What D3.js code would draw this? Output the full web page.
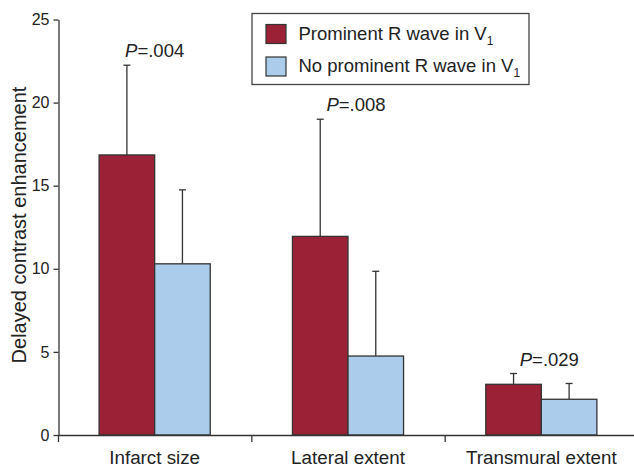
<!DOCTYPE html>
<html>
<head>
<meta charset="utf-8">
<script src="https://cdn.jsdelivr.net/npm/d3@7"></script>
<style>
  body { margin: 0; background: #fff; }
  svg { display: block; font-family: "Liberation Sans", Arial, sans-serif; }
</style>
</head>
<body>
<div id="chart"></div>
<script>
// Data
const categories = ["Infarct size", "Lateral extent", "Transmural extent"];
const seriesNames = ["Prominent R wave in V", "No prominent R wave in V"];
const prominentMeans = [16.85, 11.95, 3.05];
const prominentErrTop = [22.25, 19.0, 3.7];
const noProminentMeans = [10.3, 4.75, 2.15];
const noProminentErrTop = [14.75, 9.85, 3.1];
const pLabels = [".004", ".008", ".029"];
const yTicks = [0, 5, 10, 15, 20, 25];

const colors = ["#9b2236", "#abcdeb"];
const width = 634, height = 467;

const svg = d3.select("#chart").append("svg")
    .attr("width", width)
    .attr("height", height);

// Scales
const x0 = d3.scaleBand()
    .domain(categories)
    .range([58, 638])
    .padding(0);

const x1 = d3.scaleBand()
    .domain([0, 1])
    .range([0, x0.bandwidth()])
    .paddingInner(0)
    .paddingOuter(0.74);

const y = d3.scaleLinear()
    .domain([0, 25])
    .range([435, 19.5]);

const rows = categories.map((c, i) => ({
    cat: c,
    vals: [
        { s: 0, mean: prominentMeans[i], top: prominentErrTop[i] },
        { s: 1, mean: noProminentMeans[i], top: noProminentErrTop[i] }
    ],
    p: pLabels[i]
}));

const groups = svg.selectAll(".grp")
    .data(rows)
    .enter()
    .append("g")
    .attr("class", "grp")
    .attr("transform", d => `translate(${x0(d.cat)},0)`);

// Error bars (drawn behind the bars)
const err = groups.selectAll(".err")
    .data(d => d.vals)
    .enter()
    .append("g")
    .attr("class", "err")
    .attr("stroke", "#333")
    .attr("stroke-width", 1.3);

err.append("line")
    .attr("x1", d => x1(d.s) + x1.bandwidth() / 2)
    .attr("x2", d => x1(d.s) + x1.bandwidth() / 2)
    .attr("y1", d => y(d.mean))
    .attr("y2", d => y(d.top));

err.append("line")
    .attr("x1", d => x1(d.s) + x1.bandwidth() / 2 - 3.5)
    .attr("x2", d => x1(d.s) + x1.bandwidth() / 2 + 3.5)
    .attr("y1", d => y(d.top))
    .attr("y2", d => y(d.top));

// Bars
groups.selectAll(".bar")
    .data(d => d.vals)
    .enter()
    .append("rect")
    .attr("class", "bar")
    .attr("x", d => x1(d.s))
    .attr("y", d => y(d.mean))
    .attr("width", x1.bandwidth())
    .attr("height", d => y(0) - y(d.mean))
    .attr("fill", d => colors[d.s])
    .attr("stroke", "#333")
    .attr("stroke-width", 1.3);

// P value labels
const pText = groups.append("text")
    .attr("x", (d, i) => x0.bandwidth() / 2 + (i === 0 ? 0 : 8))
    .attr("y", d => y(d.vals[0].top) - 8)
    .attr("text-anchor", "middle")
    .attr("font-size", 18.5)
    .attr("fill", "#222");
pText.append("tspan").attr("font-style", "italic").text("P");
pText.append("tspan").text(d => "=" + d.p);

// Y axis
const yAxis = svg.append("g")
    .attr("transform", "translate(58.5,0)")
    .call(d3.axisLeft(y).tickValues(yTicks).tickSize(5).tickSizeOuter(0).tickPadding(4));
yAxis.selectAll("text").attr("font-size", 16).attr("fill", "#222").attr("font-family", "Liberation Sans, Arial, sans-serif");
yAxis.selectAll("line, path").attr("stroke", "#333").attr("stroke-width", 1.3);

// X axis
const xAxis = svg.append("g").attr("stroke", "#333").attr("stroke-width", 1.3);
xAxis.append("line")
    .attr("x1", 58.5).attr("x2", width)
    .attr("y1", y(0) + 0.5).attr("y2", y(0) + 0.5);
xAxis.selectAll(".xt")
    .data(categories)
    .enter()
    .append("line")
    .attr("class", "xt")
    .attr("x1", d => x0(d) + 0.5)
    .attr("x2", d => x0(d) + 0.5)
    .attr("y1", y(0))
    .attr("y2", y(0) + 7);

svg.selectAll(".xl")
    .data(categories)
    .enter()
    .append("text")
    .attr("class", "xl")
    .attr("x", d => x0(d) + x0.bandwidth() / 2)
    .attr("y", y(0) + 28.5)
    .attr("text-anchor", "middle")
    .attr("font-size", 18.8)
    .attr("fill", "#222")
    .text(d => d);

// Y label
svg.append("text")
    .attr("transform", `translate(26,225) rotate(-90)`)
    .attr("text-anchor", "middle")
    .attr("font-size", 20)
    .attr("fill", "#222")
    .text("Delayed contrast enhancement");

// Legend
const legend = svg.append("g").attr("transform", "translate(252,13.5)");
legend.append("rect")
    .attr("width", 277)
    .attr("height", 71)
    .attr("fill", "#fff")
    .attr("stroke", "#444")
    .attr("stroke-width", 1.3);

const items = legend.selectAll(".li")
    .data(seriesNames)
    .enter()
    .append("g")
    .attr("class", "li")
    .attr("transform", (d, i) => `translate(14,${11 + i * 32.5})`);

items.append("rect")
    .attr("width", 20)
    .attr("height", 19)
    .attr("fill", (d, i) => colors[i])
    .attr("stroke", "#333")
    .attr("stroke-width", 1.2);

const lt = items.append("text")
    .attr("x", 32.5)
    .attr("y", 15)
    .attr("font-size", 18.5)
    .attr("fill", "#222");
lt.append("tspan").text(d => d);
lt.append("tspan").attr("font-size", 12).attr("dy", 5).text("1");
</script>
</body>
</html>
